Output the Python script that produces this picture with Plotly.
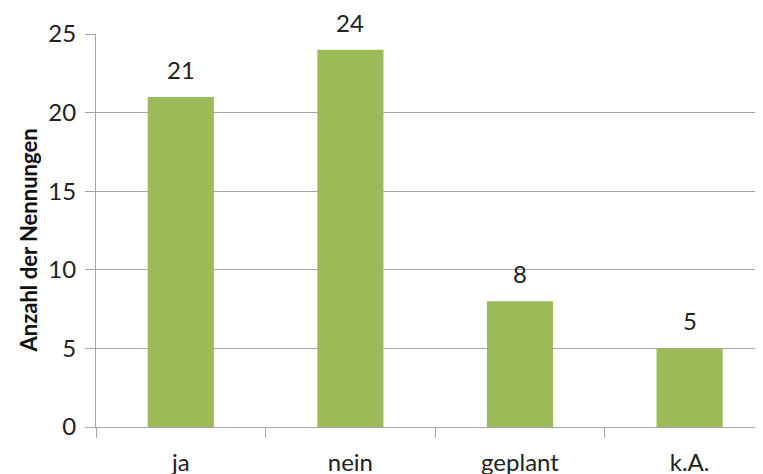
import plotly.graph_objects as go

categories = ["ja", "nein", "geplant", "k.A."]
values = [21, 24, 8, 5]
y_ticks = [0, 5, 10, 15, 20, 25]
y_title = "Anzahl der Nennungen"

bar_color = "#9BBB59"
grid_color = "#A6A6A6"
font_family = "Lato, Open Sans, sans-serif"

fig = go.Figure()
fig.add_trace(go.Bar(x=categories, y=values, marker=dict(color=bar_color, line=dict(width=0)),
                     width=0.39, hoverinfo="skip"))

for c, v in zip(categories, values):
    fig.add_annotation(x=c, y=v, text=str(v), showarrow=False, yanchor="bottom", yshift=11,
                       font=dict(family=font_family, size=24, color="#222222"))

# y-axis title as a rotated annotation (slightly below the plot centre, as in the reference)
fig.add_annotation(xref="paper", yref="paper", x=0, y=0.5, xanchor="center", yanchor="middle",
                   xshift=-68, yshift=-10, textangle=-90, showarrow=False,
                   text="<b>" + y_title + "</b>",
                   font=dict(family=font_family, size=22, color="#111111"))

# page body has an 8px default margin; compensate in the figure margins
fig.update_layout(
    width=763, height=474,
    margin=dict(l=88, r=0, t=26, b=55, autoexpand=False),
    paper_bgcolor="white", plot_bgcolor="white",
    showlegend=False,
    font=dict(family=font_family, size=24, color="#222222"),
    xaxis=dict(
        type="category", range=[-0.5, 3.48], automargin=False,
        showline=True, linecolor=grid_color, linewidth=1,
        ticks="outside", tickson="boundaries", ticklen=10, tickcolor=grid_color,
        ticklabelstandoff=14, showgrid=False,
        tickfont=dict(size=24),
    ),
    yaxis=dict(
        range=[0, 25], tickvals=y_ticks, automargin=False,
        showline=True, linecolor=grid_color, linewidth=1,
        showgrid=True, gridcolor=grid_color, gridwidth=1,
        ticks="outside", ticklen=10, tickcolor=grid_color,
        ticklabelstandoff=4, zeroline=False,
        tickfont=dict(size=24),
    ),
)

fig.write_html("out.html")
